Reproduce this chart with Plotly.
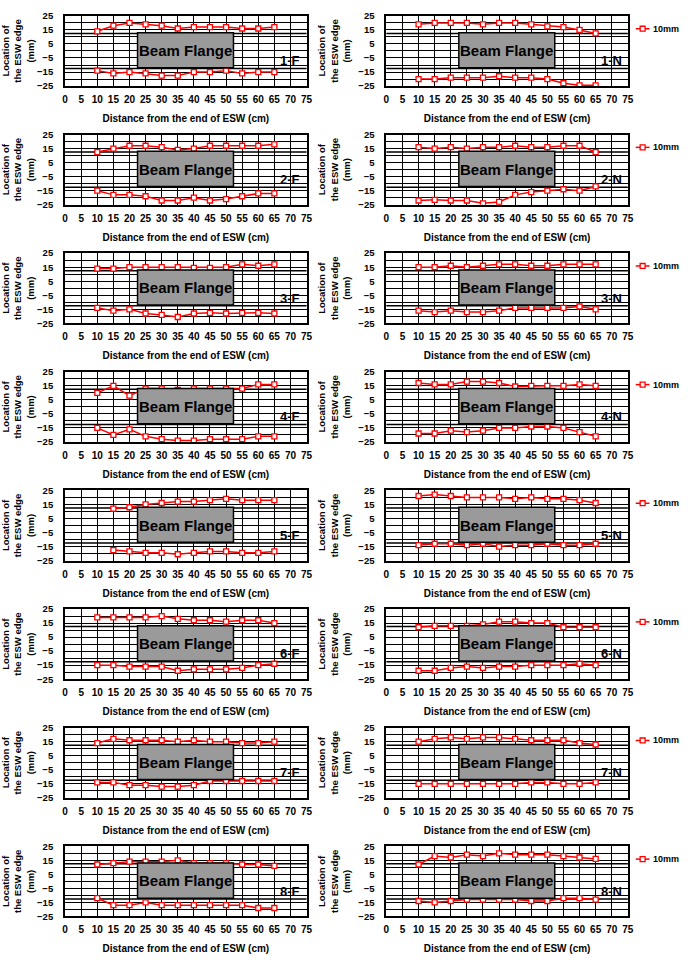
import plotly.graph_objects as go

# ---------------- data ----------------
x_pos = [10, 15, 20, 25, 30, 35, 40, 45, 50, 55, 60, 65]
x_pos_5F = [15, 20, 25, 30, 35, 40, 45, 50, 55, 60, 65]

top_1F = [14, 18, 20, 19, 18, 16, 17, 17, 17, 16, 16, 17]
bot_1F = [-14, -16, -15, -16, -17.5, -17.5, -15, -15, -14, -16, -15, -15]
top_1N = [19, 20, 20, 20, 19, 20, 20, 19, 17.5, 17, 15, 12.5]
bot_1N = [-20, -20, -19, -19, -19, -18, -19, -19, -20, -23, -24.5, -24.5]
top_2F = [12.5, 15, 17, 17, 16, 14, 15, 17, 17, 17, 17, 18]
bot_2F = [-15, -18, -18, -19, -22, -22, -20, -22, -21, -19, -17, -17]
top_2N = [16, 15, 16, 15, 16, 16, 17, 16, 16, 17, 17, 12.5]
bot_2N = [-22, -21.5, -22, -22, -24, -23, -18, -16, -15, -14, -15, -12]
top_3F = [14, 14, 15, 15, 15, 15, 14.5, 14.5, 15, 17, 16, 17]
bot_3F = [-14, -16, -15, -18, -19, -20.5, -18, -17.5, -18, -17.5, -17.5, -18]
top_3N = [15, 15, 16, 15, 16, 17, 17, 16, 16, 17, 17, 17]
bot_3N = [-16, -17, -16, -17, -17, -16, -14, -14, -14, -14, -13, -15]
top_4F = [10, 15, 8, 13, 13, 12, 13, 13, 13, 13, 16, 16]
bot_4F = [-15, -20, -16, -21, -23, -24, -24, -23, -23, -23, -21, -21]
top_4N = [17, 16, 16, 18, 18, 17, 14.5, 15, 15, 15, 16, 15]
bot_4N = [-19, -19, -17, -18, -17, -15, -15, -14, -14, -15, -18, -21]
top_5F = [12, 13, 15, 16, 17, 17, 18, 19, 18, 18, 18]
bot_5F = [-17.5, -18.5, -19.5, -19.5, -20.5, -19.5, -18.5, -18.5, -19.5, -19.5, -18.5]
top_5N = [21, 22, 21, 20, 20, 20, 19, 20, 19, 19, 18, 16]
bot_5N = [-14, -13, -13, -14, -13, -15, -14, -14, -13, -14, -14, -13]
top_6F = [19, 19, 19, 19, 20, 18, 17, 17, 16, 17, 17, 15]
bot_6F = [-15, -15, -16, -16, -16, -19, -18, -18, -18, -17, -15, -14]
top_6N = [12, 13, 13, 13, 14, 16, 16, 15, 15, 12, 12, 12]
bot_6N = [-19, -19, -17, -16, -17, -16, -16, -15, -15, -15, -14, -15]
top_7F = [14, 17, 16, 16, 16, 15, 16, 15, 15, 14, 14, 15]
bot_7F = [-14, -14, -16, -16, -17, -17, -16, -13, -13, -13, -13, -13]
top_7N = [15, 17, 18, 17, 18, 18, 17, 16, 16, 16, 14, 13]
bot_7N = [-15, -15, -15, -15, -15, -15, -15, -14, -14, -15, -15, -14]
top_8F = [12, 13, 14, 14, 14, 15, 13, 13, 13, 12, 12, 11]
bot_8F = [-12, -17, -17, -15, -17, -17, -17, -17, -17, -17, -19, -19]
top_8N = [12, 18, 17, 19, 18, 20, 19, 19, 19, 18, 17, 16]
bot_8N = [-14, -15, -14, -13, -13, -13, -13, -14, -14, -12, -12, -13]

panel_labels = ["1-F", "1-N", "2-F", "2-N", "3-F", "3-N", "4-F", "4-N",
                "5-F", "5-N", "6-F", "6-N", "7-F", "7-N", "8-F", "8-N"]
legend_label = "10mm"
x_tick_vals = list(range(0, 80, 5))
y_tick_vals = [25, 15, 5, -5, -15, -25]
flange_x = [22.5, 52.3]
flange_y = [-12, 13]
flange_edges = [12.5, -12.5]
flange_text = "Beam Flange"
x_title = "Distance from the end of ESW (cm)"
y_title = "Location of<br>the ESW edge<br>(mm)"

panels = [
    (x_pos, top_1F, bot_1F), (x_pos, top_1N, bot_1N),
    (x_pos, top_2F, bot_2F), (x_pos, top_2N, bot_2N),
    (x_pos, top_3F, bot_3F), (x_pos, top_3N, bot_3N),
    (x_pos, top_4F, bot_4F), (x_pos, top_4N, bot_4N),
    (x_pos_5F, top_5F, bot_5F), (x_pos, top_5N, bot_5N),
    (x_pos, top_6F, bot_6F), (x_pos, top_6N, bot_6N),
    (x_pos, top_7F, bot_7F), (x_pos, top_7N, bot_7N),
    (x_pos, top_8F, bot_8F), (x_pos, top_8N, bot_8N),
]

# ---------------- layout ----------------
W, H = 691, 960
FONT = "Liberation Sans, Arial, sans-serif"
RED = "#FF0000"
col_x = [(62, 307), (388, 633)]
row_top0, row_pitch, plot_h = 10, 120, 71

fig = go.Figure()
layout = dict(width=W, height=H, margin=dict(l=0, r=0, t=0, b=0),
              paper_bgcolor="white", plot_bgcolor="white", showlegend=False,
              font=dict(family=FONT, color="black"))
shapes, annotations = [], []

for k, (xs, top, bot) in enumerate(panels):
    r, c = divmod(k, 2)
    n = k + 1
    xa = "x" if n == 1 else f"x{n}"
    ya = "y" if n == 1 else f"y{n}"
    xk = "xaxis" if n == 1 else f"xaxis{n}"
    yk = "yaxis" if n == 1 else f"yaxis{n}"
    x0p, x1p = col_x[c]
    ytop = row_top0 + r * row_pitch
    ybot = ytop + plot_h
    for ys in (top, bot):
        fig.add_trace(go.Scatter(
            x=xs, y=ys, xaxis=xa, yaxis=ya, mode="lines+markers",
            name=legend_label,
            line=dict(color=RED, width=1.5),
            marker=dict(symbol="square", size=5, color="white",
                        line=dict(color=RED, width=1.3)),
            hoverinfo="skip"))
    layout[xk] = dict(
        domain=[x0p / W, x1p / W], anchor=ya, range=[0, 75],
        tickmode="array", tickvals=x_tick_vals,
        showgrid=True, gridcolor="black", gridwidth=1,
        showline=True, mirror=True, linecolor="black", linewidth=2,
        zeroline=False, ticks="", ticklabelstandoff=3,
        tickfont=dict(size=10, family=FONT, weight="bold"),
        title=dict(text=x_title, standoff=11,
                   font=dict(size=10, family=FONT, weight="bold")))
    layout[yk] = dict(
        domain=[1 - ybot / H, 1 - ytop / H], anchor=xa, range=[-25, 25],
        tickmode="array", tickvals=y_tick_vals,
        showgrid=True, gridcolor="black", gridwidth=1,
        minor=dict(tickmode="linear", tick0=0, dtick=5, showgrid=True,
                   gridcolor="black", gridwidth=1),
        showline=True, mirror=True, linecolor="black", linewidth=2,
        zeroline=False, ticks="", ticklabelstandoff=8,
        tickfont=dict(size=9.5, family=FONT, weight="bold"),
        title=dict(text=y_title, standoff=6,
                   font=dict(size=9.5, family=FONT, weight="bold")))
    # flange edge lines
    for ye in flange_edges:
        shapes.append(dict(type="line", xref=f"{xa} domain", yref=ya,
                           x0=0, x1=1, y0=ye, y1=ye,
                           line=dict(color="black", width=1.5), layer="below"))
    # beam flange box
    shapes.append(dict(type="rect", xref=xa, yref=ya,
                       x0=flange_x[0], x1=flange_x[1],
                       y0=flange_y[0], y1=flange_y[1],
                       fillcolor="#9A9A9A", line=dict(color="black", width=1.5),
                       layer="above"))
    annotations.append(dict(xref=xa, yref=ya, x=sum(flange_x) / 2, y=0.3,
                            text=flange_text, showarrow=False,
                            font=dict(size=15, family=FONT, weight="bold", color="black")))
    annotations.append(dict(xref=xa, yref=ya, x=70, y=-7,
                            text=panel_labels[k], showarrow=False,
                            font=dict(size=13, family=FONT, weight="bold", color="black")))
    # custom legend for right column
    if c == 1:
        ly = ytop + 13
        shapes.append(dict(type="line", xref="paper", yref="paper",
                           x0=641 / W, x1=655 / W, y0=1 - ly / H, y1=1 - ly / H,
                           line=dict(color=RED, width=1.5)))
        shapes.append(dict(type="rect", xref="paper", yref="paper",
                           x0=645.5 / W, x1=650.5 / W,
                           y0=1 - (ly + 2.5) / H, y1=1 - (ly - 2.5) / H,
                           fillcolor="white", line=dict(color=RED, width=1.3)))
        annotations.append(dict(xref="paper", yref="paper", x=656 / W, y=1 - ly / H,
                                xanchor="left", yanchor="middle", text=legend_label,
                                showarrow=False,
                                font=dict(size=9, family=FONT, weight="bold", color="black")))

layout["shapes"] = shapes
layout["annotations"] = annotations
fig.update_layout(**layout)
fig.write_html("out.html")
